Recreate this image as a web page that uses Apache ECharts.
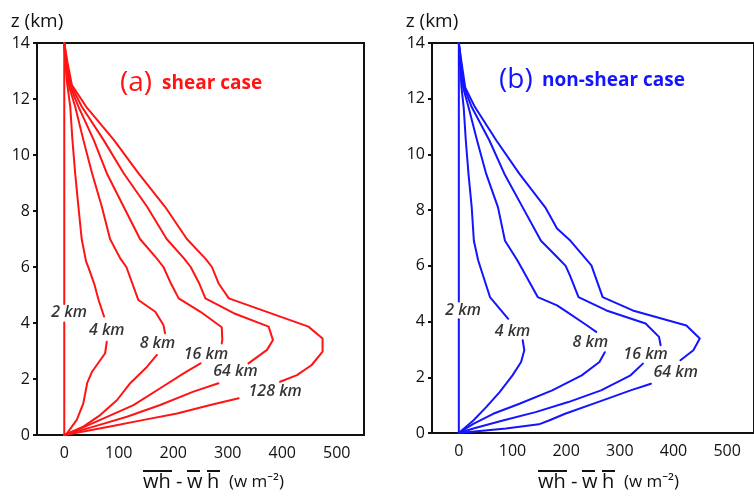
<!DOCTYPE html>
<html><head><meta charset="utf-8">
<script src="https://cdn.jsdelivr.net/npm/echarts@6/dist/echarts.min.js"></script>
<style>html,body{margin:0;padding:0;background:#fff}#c{width:754px;height:496px}</style>
</head><body><div id="c"></div>
<script>
// ---------- data ----------
const xTickValues = [0, 100, 200, 300, 400, 500];
const zMin = 0, zMax = 14, zStep = 2;
const xMin = -50, xMax = 550;

// (a) shear case, [value, z]; each curve split where its label sits
const shear2kmUpper = [[0,14],[0,4.68]];
const shear2kmLower = [[0,4.02],[0,0]];
const shear4kmUpper = [[0,14],[2,13.3],[5,12.6],[11,11.73],[15,10.54],[20,9.35],[26,8.15],[32,7.0],[40,6.2],[45,5.95],[55,5.4],[63,4.82],[73,4.23]];
const shear4kmLower = [[78,3.33],[75,2.92],[51,2.26],[42,1.85],[35,1.13],[23,0.54],[5,0.06],[0,0]];
const shear8kmUpper = [[0,14],[3,13.3],[8,12.5],[20,11.73],[35,10.54],[51,9.35],[69,8.15],[84,7.0],[103,6.3],[114,6.0],[136,4.82],[167,4.4],[182,3.93],[185,3.63]];
const shear8kmLower = [[170,2.86],[152,2.44],[121,1.85],[97,1.25],[66,0.71],[35,0.3],[0,0]];
const shear16kmUpper = [[0,14],[4,13.3],[10,12.5],[26,11.73],[54,10.54],[78,9.35],[109,8.15],[139,7.0],[170,6.3],[182,6.0],[196,5.4],[210,4.88],[250,4.4],[289,3.85],[290,3.4],[289,3.27]];
const shear16kmLower = [[250,2.56],[219,2.2],[176,1.67],[127,1.07],[66,0.54],[17,0.12],[0,0]];
const shear64kmUpper = [[0,14],[5,13.3],[12,12.5],[32,11.73],[72,10.54],[109,9.35],[152,8.15],[188,7.0],[220,6.3],[232,6.0],[248,5.4],[259,4.88],[311,4.35],[375,3.87],[383,3.39],[372,3.04],[338,2.56]];
const shear64kmLower = [[283,1.85],[237,1.55],[176,1.07],[115,0.65],[54,0.3],[11,0.06],[0,0]];
const shear128kmUpper = [[0,14],[6,13.3],[14,12.5],[40,11.73],[91,10.54],[136,9.35],[185,8.15],[225,7.0],[259,6.3],[271,6.0],[283,5.42],[302,4.88],[448,3.87],[474,3.45],[474,2.98],[454,2.5],[427,2.14],[396,1.9]];
const shear128kmLower = [[320,1.31],[268,1.07],[207,0.77],[146,0.54],[84,0.3],[23,0.08],[0,0]];
const shearLabelText = ['2 km','4 km','8 km','16 km','64 km','128 km'];
const shearLabelX = [9, 78, 171, 260, 314, 387];
const shearLabelZ = [4.36, 3.72, 3.27, 2.89, 2.26, 1.55];

// (b) non-shear case
const nonshear2kmUpper = [[0,14],[0,4.72]];
const nonshear2kmLower = [[0,4.08],[0,0]];
const nonshear4kmUpper = [[0,14],[2,13.3],[5,12.4],[9,11.7],[13,10.5],[18,9.3],[24,8.1],[28,6.9],[36,6.2],[40,5.96],[58,4.88],[92,4.1]];
const nonshear4kmLower = [[119,3.33],[122,2.97],[116,2.55],[100,2.07],[76,1.47],[51,0.93],[27,0.45],[0,0]];
const nonshear8kmUpper = [[0,14],[3,13.3],[8,12.4],[18,11.7],[34,10.5],[51,9.3],[73,8.1],[86,6.9],[109,6.2],[116,5.96],[147,4.88],[183,4.58],[202,4.34],[239,3.86],[256,3.63]];
const nonshear8kmLower = [[272,2.9],[262,2.55],[229,2.07],[174,1.53],[113,1.05],[64,0.69],[27,0.33],[0,0]];
const nonshear16kmUpper = [[0,14],[4,13.3],[10,12.4],[24,11.7],[57,10.5],[85,9.3],[119,8.1],[153,6.9],[183,6.32],[199,6.0],[207,5.66],[223,4.88],[275,4.4],[348,3.93],[373,3.45],[376,3.15]];
const nonshear16kmLower = [[343,2.49],[320,2.07],[265,1.53],[204,1.11],[143,0.75],[82,0.45],[27,0.16],[0,0]];
const nonshear64kmUpper = [[0,14],[5,13.3],[12,12.4],[30,11.7],[70,10.5],[113,9.3],[161,8.1],[183,7.34],[208,6.9],[247,6.02],[268,4.88],[324,4.4],[424,3.86],[449,3.39],[437,2.97],[413,2.61]];
const nonshear64kmLower = [[358,1.77],[320,1.53],[259,1.11],[198,0.69],[168,0.45],[149,0.31],[88,0.16],[39,0.07],[0,0]];
const nonshearLabelText = ['2 km','4 km','8 km','16 km','64 km'];
const nonshearLabelX = [8, 100, 245, 348, 404];
const nonshearLabelZ = [4.4, 3.66, 3.24, 2.82, 2.19];

// ---------- chart ----------
const RED = '#ff1414', BLUE = '#1414ff', INK = '#111';
const FONT = '"Open Sans", "Noto Sans", sans-serif';

function curve(idx, data, color) {
  return { type: 'line', xAxisIndex: idx, yAxisIndex: idx, data: data, symbol: 'none', smooth: false,
    lineStyle: { color: color, width: 2, join: 'round', cap: 'round' }, silent: true, animation: false, z: 3 };
}
function labels(idx, xs, zs, texts) {
  return { type: 'scatter', xAxisIndex: idx, yAxisIndex: idx, symbol: 'circle', symbolSize: 0,
    silent: true, animation: false,
    itemStyle: { color: '#000' },
    data: texts.map((t, i) => ({ name: t, value: [xs[i], zs[i]] })),
    label: { show: true, position: 'inside', formatter: '{b}', color: '#000',
      fontFamily: FONT, fontStyle: 'italic', fontWeight: 600, fontSize: 16, textBorderWidth: 0 } };
}
function xAxisCfg(idx) {
  return { type: 'value', gridIndex: idx, min: xMin, max: xMax,
    axisLine: { show: true, onZero: false, lineStyle: { color: INK, width: 2 } },
    axisTick: { show: false },
    splitLine: { show: false },
    axisLabel: { customValues: xTickValues, color: INK, fontSize: 16, fontFamily: FONT, margin: 10 } };
}
function yAxisCfg(idx) {
  return { type: 'value', gridIndex: idx, min: zMin, max: zMax, interval: zStep,
    name: 'z (km)', nameLocation: 'end', nameGap: 12,
    nameTextStyle: { color: INK, fontSize: 19, fontFamily: FONT, align: 'center' },
    axisLine: { show: true, onZero: false, lineStyle: { color: INK, width: 2 } },
    axisTick: { show: true, inside: false, length: 4, lineStyle: { color: INK, width: 2 } },
    splitLine: { show: false },
    axisLabel: { color: INK, fontSize: 16, fontFamily: FONT, margin: 7 } };
}
function xTitle(x0) {
  const y = 482, oy = 471;
  const t = (s, dx, size) => ({ type: 'text', x: x0 + dx, y: y,
    style: { text: s, fill: INK, font: size + 'px ' + FONT, verticalAlign: 'middle', align: 'left' } });
  const l = (a, b) => ({ type: 'line', shape: { x1: x0 + a, y1: oy, x2: x0 + b, y2: oy },
    style: { stroke: INK, lineWidth: 2 } });
  return [t('wh', 0, 20), t('-', 33, 20), t('w', 44, 20), t('h', 64, 20), t('(w m\u207B\u00B2)', 86, 17),
          l(0, 29), l(44, 57), l(64, 77)];
}

const chart = echarts.init(document.getElementById('c'), null, { renderer: 'canvas' });
chart.setOption({
  animation: false,
  backgroundColor: '#fff',
  grid: [
    { left: 37, top: 43, width: 327, height: 392, show: true, borderColor: INK, borderWidth: 2, containLabel: false },
    { left: 432, top: 43, width: 327, height: 390, show: true, borderColor: INK, borderWidth: 2, containLabel: false }
  ],
  xAxis: [xAxisCfg(0), xAxisCfg(1)],
  yAxis: [yAxisCfg(0), yAxisCfg(1)],
  series: [
    curve(0, shear4kmUpper, RED), curve(0, shear4kmLower, RED),
    curve(0, shear8kmUpper, RED), curve(0, shear8kmLower, RED),
    curve(0, shear16kmUpper, RED), curve(0, shear16kmLower, RED),
    curve(0, shear64kmUpper, RED), curve(0, shear64kmLower, RED),
    curve(0, shear128kmUpper, RED), curve(0, shear128kmLower, RED),
    curve(0, shear2kmUpper, RED), curve(0, shear2kmLower, RED),
    labels(0, shearLabelX, shearLabelZ, shearLabelText),
    curve(1, nonshear4kmUpper, BLUE), curve(1, nonshear4kmLower, BLUE),
    curve(1, nonshear8kmUpper, BLUE), curve(1, nonshear8kmLower, BLUE),
    curve(1, nonshear16kmUpper, BLUE), curve(1, nonshear16kmLower, BLUE),
    curve(1, nonshear64kmUpper, BLUE), curve(1, nonshear64kmLower, BLUE),
    curve(1, nonshear2kmUpper, BLUE), curve(1, nonshear2kmLower, BLUE),
    labels(1, nonshearLabelX, nonshearLabelZ, nonshearLabelText)
  ],
  graphic: [
    { type: 'text', x: 120, y: 83, style: { text: '(a)', fill: RED, font: '28px ' + FONT, verticalAlign: 'middle' } },
    { type: 'text', x: 162, y: 84, style: { text: 'shear case', fill: RED, font: 'bold 19px ' + FONT, verticalAlign: 'middle' } },
    { type: 'text', x: 499, y: 80, style: { text: '(b)', fill: BLUE, font: '28px ' + FONT, verticalAlign: 'middle' } },
    { type: 'text', x: 542, y: 81, style: { text: 'non-shear case', fill: BLUE, font: 'bold 19px ' + FONT, verticalAlign: 'middle' } }
  ].concat(xTitle(143), xTitle(538))
});
</script>
</body></html>
